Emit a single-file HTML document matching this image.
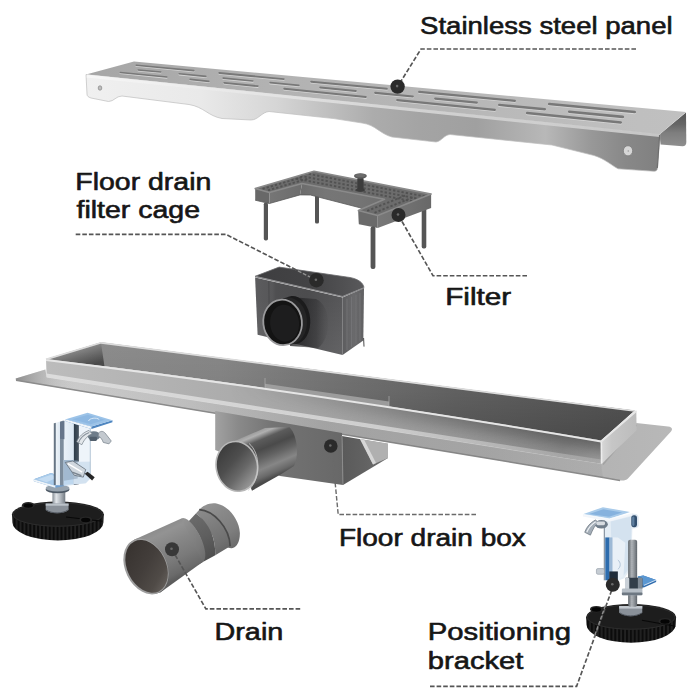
<!DOCTYPE html>
<html lang="en"><head><meta charset="utf-8"><title>Floor drain parts</title>
<style>
html,body{margin:0;padding:0;background:#fff;}
body{width:700px;height:700px;overflow:hidden;}
svg{display:block;}
text{font-family:"Liberation Sans",sans-serif;fill:#161616;stroke:#161616;stroke-width:0.6px;stroke-linejoin:round;}
</style></head><body>
<svg width="700" height="700" viewBox="0 0 700 700">
<defs>
<linearGradient id="pTop" gradientUnits="userSpaceOnUse" x1="86" y1="0" x2="686" y2="0"><stop offset="0" stop-color="#a6a6a6"/><stop offset="0.12" stop-color="#aaaaaa"/><stop offset="0.3" stop-color="#b2b2b2"/><stop offset="0.6" stop-color="#b6b6b6"/><stop offset="0.85" stop-color="#bebebe"/><stop offset="1" stop-color="#c0c0c0"/></linearGradient>
<linearGradient id="pBack" gradientUnits="userSpaceOnUse" x1="0" y1="113" x2="0" y2="146"><stop offset="0" stop-color="#565656"/><stop offset="0.35" stop-color="#666666"/><stop offset="0.6" stop-color="#7e7e7e"/><stop offset="1" stop-color="#8e8e8e"/></linearGradient>
<linearGradient id="pFront" gradientUnits="userSpaceOnUse" x1="86" y1="0" x2="660" y2="0"><stop offset="0" stop-color="#f0f0f0"/><stop offset="0.2" stop-color="#e9e9e9"/><stop offset="0.33" stop-color="#d6d6d6"/><stop offset="0.42" stop-color="#c0c0c0"/><stop offset="0.5" stop-color="#acacac"/><stop offset="0.58" stop-color="#a4a4a4"/><stop offset="0.68" stop-color="#a0a0a0"/><stop offset="0.8" stop-color="#b8b8b8"/><stop offset="0.88" stop-color="#989898"/><stop offset="0.94" stop-color="#888888"/><stop offset="1" stop-color="#808080"/></linearGradient>
<linearGradient id="pRim" gradientUnits="userSpaceOnUse" x1="86" y1="0" x2="660" y2="0"><stop offset="0" stop-color="#f8f8f8"/><stop offset="0.35" stop-color="#e4e4e4"/><stop offset="0.6" stop-color="#d6d6d6"/><stop offset="1" stop-color="#cecece"/></linearGradient>
<linearGradient id="fMid" gradientUnits="userSpaceOnUse" x1="300" y1="0" x2="386" y2="0"><stop offset="0" stop-color="#6c6c6c"/><stop offset="0.3" stop-color="#767676"/><stop offset="0.7" stop-color="#747474"/><stop offset="1" stop-color="#6e6e6e"/></linearGradient>
<linearGradient id="fL" gradientUnits="userSpaceOnUse" x1="269" y1="0" x2="303" y2="0"><stop offset="0" stop-color="#767676"/><stop offset="1" stop-color="#6c6c6c"/></linearGradient>
<linearGradient id="fR" gradientUnits="userSpaceOnUse" x1="377" y1="0" x2="431" y2="0"><stop offset="0" stop-color="#787878"/><stop offset="0.6" stop-color="#707070"/><stop offset="1" stop-color="#686868"/></linearGradient>
<clipPath id="fTopClip"><polygon points="255.2,188.6 314.0,171.3 431.1,194.1 377.7,215.6 358.4,210.6 384.5,199.2 302.0,183.5 269.4,192.5"/></clipPath>
<linearGradient id="cFront" gradientUnits="userSpaceOnUse" x1="255" y1="0" x2="342" y2="0"><stop offset="0" stop-color="#5c5c5e"/><stop offset="0.2" stop-color="#575759"/><stop offset="0.24" stop-color="#4f4f51"/><stop offset="0.6" stop-color="#4c4c4e"/><stop offset="1" stop-color="#58585a"/></linearGradient>
<linearGradient id="cSide" gradientUnits="userSpaceOnUse" x1="342" y1="0" x2="365" y2="0"><stop offset="0" stop-color="#5c5c5e"/><stop offset="0.5" stop-color="#6a6a6c"/><stop offset="1" stop-color="#606062"/></linearGradient>
<linearGradient id="cFrontV" gradientUnits="userSpaceOnUse" x1="0" y1="300" x2="0" y2="356"><stop offset="0" stop-color="rgba(255,255,255,0)"/><stop offset="1" stop-color="rgba(255,255,255,0.07)"/></linearGradient>
<linearGradient id="cShadow" gradientUnits="userSpaceOnUse" x1="296" y1="0" x2="330" y2="0"><stop offset="0" stop-color="rgba(30,30,32,0.75)"/><stop offset="0.6" stop-color="rgba(40,40,42,0.45)"/><stop offset="1" stop-color="rgba(60,60,62,0)"/></linearGradient>
<linearGradient id="cTop" gradientUnits="userSpaceOnUse" x1="255" y1="0" x2="365" y2="0"><stop offset="0" stop-color="#3e3e40"/><stop offset="0.5" stop-color="#434345"/><stop offset="0.8" stop-color="#505052"/><stop offset="1" stop-color="#5a5a5c"/></linearGradient>
<linearGradient id="chFl" gradientUnits="userSpaceOnUse" x1="15" y1="0" x2="672" y2="0"><stop offset="0" stop-color="#cfcfcf"/><stop offset="0.3" stop-color="#c6c6c6"/><stop offset="0.7" stop-color="#bababa"/><stop offset="0.9" stop-color="#b4b4b4"/><stop offset="1" stop-color="#b8b8b8"/></linearGradient>
<linearGradient id="chFlL" gradientUnits="userSpaceOnUse" x1="16" y1="0" x2="75" y2="0"><stop offset="0" stop-color="rgba(120,120,120,0.75)"/><stop offset="0.5" stop-color="rgba(150,150,150,0.35)"/><stop offset="1" stop-color="rgba(180,180,180,0)"/></linearGradient>
<linearGradient id="chFs" gradientUnits="userSpaceOnUse" x1="46" y1="0" x2="603" y2="0"><stop offset="0" stop-color="rgba(110,110,110,0)"/><stop offset="0.25" stop-color="rgba(110,110,110,0.10)"/><stop offset="0.5" stop-color="rgba(100,100,100,0.32)"/><stop offset="0.8" stop-color="rgba(100,100,100,0.25)"/><stop offset="1" stop-color="rgba(110,110,110,0.10)"/></linearGradient>
<linearGradient id="bxF" gradientUnits="userSpaceOnUse" x1="215" y1="0" x2="342" y2="0"><stop offset="0" stop-color="#a2a2a2"/><stop offset="0.18" stop-color="#8a8a8a"/><stop offset="0.45" stop-color="#747474"/><stop offset="1" stop-color="#686868"/></linearGradient>
<linearGradient id="bxS" gradientUnits="userSpaceOnUse" x1="342" y1="0" x2="388" y2="0"><stop offset="0" stop-color="#5a5a5a"/><stop offset="0.5" stop-color="#626262"/><stop offset="1" stop-color="#6e6e6e"/></linearGradient>
<linearGradient id="pB" gradientUnits="userSpaceOnUse" x1="262" y1="428.5" x2="281.5" y2="474.5"><stop offset="0" stop-color="#9a9a9a"/><stop offset="0.08" stop-color="#b0b0b0"/><stop offset="0.2" stop-color="#5c5c5c"/><stop offset="0.38" stop-color="#4a4a4a"/><stop offset="0.55" stop-color="#626262"/><stop offset="0.75" stop-color="#868686"/><stop offset="0.9" stop-color="#6a6a6a"/><stop offset="1" stop-color="#4a4a4a"/></linearGradient>
<linearGradient id="pI" gradientUnits="userSpaceOnUse" x1="223" y1="447" x2="255" y2="487"><stop offset="0" stop-color="#3c3c3c"/><stop offset="0.35" stop-color="#4e4e4e"/><stop offset="0.6" stop-color="#686868"/><stop offset="0.85" stop-color="#8e8e8e"/><stop offset="1" stop-color="#a4a4a4"/></linearGradient>
<linearGradient id="chIn" gradientUnits="userSpaceOnUse" x1="44" y1="0" x2="633" y2="0"><stop offset="0" stop-color="#7e7e7e"/><stop offset="0.1" stop-color="#8c8c8c"/><stop offset="0.3" stop-color="#888888"/><stop offset="0.5" stop-color="#767676"/><stop offset="0.7" stop-color="#666666"/><stop offset="1" stop-color="#585858"/></linearGradient>
<linearGradient id="chLw" gradientUnits="userSpaceOnUse" x1="82" y1="346" x2="88" y2="366"><stop offset="0" stop-color="#909090"/><stop offset="0.45" stop-color="#707070"/><stop offset="1" stop-color="#4c4c4c"/></linearGradient>
<linearGradient id="chSh" gradientUnits="objectBoundingBox" x1="0" y1="0" x2="0" y2="1"><stop offset="0" stop-color="rgba(0,0,0,0)"/><stop offset="0.5" stop-color="rgba(0,0,0,0.06)"/><stop offset="1" stop-color="rgba(0,0,0,0.20)"/></linearGradient>
<linearGradient id="chFr" gradientUnits="userSpaceOnUse" x1="44" y1="0" x2="602" y2="0"><stop offset="0" stop-color="#bcbcbc"/><stop offset="0.25" stop-color="#b0b0b0"/><stop offset="0.5" stop-color="#a4a4a4"/><stop offset="0.75" stop-color="#989898"/><stop offset="0.93" stop-color="#8a8a8a"/><stop offset="1" stop-color="#9a9a9a"/></linearGradient>
<linearGradient id="chFrD" gradientUnits="userSpaceOnUse" x1="500" y1="424" x2="496.2" y2="447.7"><stop offset="0" stop-color="rgba(50,50,50,0.55)"/><stop offset="0.35" stop-color="rgba(60,60,60,0.36)"/><stop offset="0.75" stop-color="rgba(90,90,90,0.10)"/><stop offset="1" stop-color="rgba(120,120,120,0)"/></linearGradient>
<linearGradient id="chFrMg" gradientUnits="userSpaceOnUse" x1="230" y1="0" x2="602" y2="0"><stop offset="0" stop-color="#000"/><stop offset="0.55" stop-color="#9a9a9a"/><stop offset="1" stop-color="#fff"/></linearGradient>
<mask id="chFrM" maskUnits="userSpaceOnUse" x="0" y="300" width="700" height="250"><rect x="0" y="300" width="700" height="250" fill="url(#chFrMg)"/></mask>
<linearGradient id="chBend" gradientUnits="userSpaceOnUse" x1="46" y1="0" x2="601" y2="0"><stop offset="0" stop-color="rgba(222,222,222,0.95)"/><stop offset="0.6" stop-color="rgba(214,214,214,0.85)"/><stop offset="1" stop-color="rgba(200,200,200,0.35)"/></linearGradient>
<linearGradient id="chRe" gradientUnits="userSpaceOnUse" x1="601" y1="0" x2="637" y2="0"><stop offset="0" stop-color="#d8d8d8"/><stop offset="0.3" stop-color="#c6c6c6"/><stop offset="1" stop-color="#bcbcbc"/></linearGradient>
<linearGradient id="dF" gradientUnits="userSpaceOnUse" x1="380" y1="90" x2="620" y2="440"><stop offset="0" stop-color="#929292"/><stop offset="0.3" stop-color="#888888"/><stop offset="0.7" stop-color="#7e7e7e"/><stop offset="1" stop-color="#6c6c6c"/></linearGradient>
<linearGradient id="dR" gradientUnits="userSpaceOnUse" x1="300" y1="150" x2="520" y2="520"><stop offset="0" stop-color="#8a8a8a"/><stop offset="0.35" stop-color="#7e7e7e"/><stop offset="0.75" stop-color="#707070"/><stop offset="1" stop-color="#626262"/></linearGradient>
<linearGradient id="dD" gradientUnits="userSpaceOnUse" x1="220" y1="220" x2="400" y2="560"><stop offset="0" stop-color="#6a6a6a"/><stop offset="0.5" stop-color="#5e5e5e"/><stop offset="1" stop-color="#4e4e4e"/></linearGradient>
<linearGradient id="dN" gradientUnits="userSpaceOnUse" x1="180" y1="240" x2="330" y2="590"><stop offset="0" stop-color="#929292"/><stop offset="0.4" stop-color="#868686"/><stop offset="0.8" stop-color="#707070"/><stop offset="1" stop-color="#5e5e5e"/></linearGradient>
<linearGradient id="dB" gradientUnits="userSpaceOnUse" x1="210.6" y1="168.5" x2="329.4" y2="411.5"><stop offset="0" stop-color="#8c8c8c"/><stop offset="0.12" stop-color="#939393"/><stop offset="0.35" stop-color="#878787"/><stop offset="0.65" stop-color="#7a7a7a"/><stop offset="0.9" stop-color="#6a6a6a"/><stop offset="1" stop-color="#5c5c5c"/></linearGradient>
<linearGradient id="dI" gradientUnits="userSpaceOnUse" x1="95" y1="255" x2="235" y2="465"><stop offset="0" stop-color="#393431"/><stop offset="0.45" stop-color="#433e3b"/><stop offset="0.8" stop-color="#504b47"/><stop offset="1" stop-color="#635e5a"/></linearGradient>
<pattern id="knurl" width="3.9" height="30" patternUnits="userSpaceOnUse"><rect width="3.9" height="30" fill="#0c0c0c"/><rect x="0.3" width="1.5" height="30" fill="#272727"/></pattern>
<linearGradient id="blBolt" gradientUnits="userSpaceOnUse" x1="190" y1="0" x2="285" y2="0"><stop offset="0" stop-color="#7d858d"/><stop offset="0.3" stop-color="#e2e6ea"/><stop offset="0.6" stop-color="#b4bac0"/><stop offset="1" stop-color="#6e767e"/></linearGradient>
<linearGradient id="blBody" gradientUnits="userSpaceOnUse" x1="205" y1="0" x2="457" y2="0"><stop offset="0" stop-color="#5f6f7f"/><stop offset="0.03" stop-color="#5f6f7f"/><stop offset="0.045" stop-color="#edf3f8"/><stop offset="0.15" stop-color="#dfe9f2"/><stop offset="0.165" stop-color="#7d8d9d"/><stop offset="0.25" stop-color="#7d8d9d"/><stop offset="0.27" stop-color="#e9f1f8"/><stop offset="0.53" stop-color="#dce8f3"/><stop offset="0.555" stop-color="#2f3d4a"/><stop offset="0.67" stop-color="#46525e"/><stop offset="0.69" stop-color="#f3f7fb"/><stop offset="1" stop-color="#e4edf6"/></linearGradient>
<linearGradient id="brBolt" gradientUnits="userSpaceOnUse" x1="372" y1="0" x2="435" y2="0"><stop offset="0" stop-color="#5c6268"/><stop offset="0.4" stop-color="#b4b8bc"/><stop offset="0.65" stop-color="#92979c"/><stop offset="1" stop-color="#5a6066"/></linearGradient>
</defs>
<rect width="700" height="700" fill="#ffffff"/>
<path d="M659.5,134.5 L686,112.5 L686.3,142 C686.3,145 685,146.3 682.5,146.3 L660.6,144.6 Z" fill="url(#pBack)"/>
<polygon points="86.0,74.5 134.0,61.5 686.0,112.0 660.0,134.0" fill="url(#pTop)" />
<line x1="136.2" y1="66.0" x2="193.8" y2="71.4" stroke="#d6d6d6" stroke-width="1.6" stroke-linecap="round"/>
<line x1="136.2" y1="65.2" x2="193.8" y2="70.6" stroke="#787878" stroke-width="1.6" stroke-linecap="round"/>
<line x1="219.2" y1="73.8" x2="283.8" y2="79.9" stroke="#d6d6d6" stroke-width="1.8" stroke-linecap="round"/>
<line x1="219.2" y1="73.0" x2="283.8" y2="79.1" stroke="#787878" stroke-width="1.8" stroke-linecap="round"/>
<line x1="311.2" y1="82.5" x2="386.8" y2="89.6" stroke="#d6d6d6" stroke-width="2.0" stroke-linecap="round"/>
<line x1="311.2" y1="81.7" x2="386.8" y2="88.8" stroke="#787878" stroke-width="2.0" stroke-linecap="round"/>
<line x1="419.2" y1="92.6" x2="514.8" y2="101.6" stroke="#d6d6d6" stroke-width="2.3" stroke-linecap="round"/>
<line x1="419.2" y1="91.8" x2="514.8" y2="100.8" stroke="#787878" stroke-width="2.3" stroke-linecap="round"/>
<line x1="549.2" y1="104.8" x2="634.8" y2="112.9" stroke="#d6d6d6" stroke-width="2.5" stroke-linecap="round"/>
<line x1="549.2" y1="104.0" x2="634.8" y2="112.1" stroke="#787878" stroke-width="2.5" stroke-linecap="round"/>
<line x1="138.2" y1="70.7" x2="160.8" y2="72.8" stroke="#d6d6d6" stroke-width="1.5" stroke-linecap="round"/>
<line x1="138.2" y1="69.9" x2="160.8" y2="72.0" stroke="#787878" stroke-width="1.5" stroke-linecap="round"/>
<line x1="179.2" y1="74.6" x2="205.8" y2="77.2" stroke="#d6d6d6" stroke-width="1.6" stroke-linecap="round"/>
<line x1="179.2" y1="73.8" x2="205.8" y2="76.4" stroke="#787878" stroke-width="1.6" stroke-linecap="round"/>
<line x1="223.2" y1="78.9" x2="252.8" y2="81.8" stroke="#d6d6d6" stroke-width="1.7" stroke-linecap="round"/>
<line x1="223.2" y1="78.1" x2="252.8" y2="81.0" stroke="#787878" stroke-width="1.7" stroke-linecap="round"/>
<line x1="270.2" y1="83.5" x2="298.8" y2="86.2" stroke="#d6d6d6" stroke-width="1.8" stroke-linecap="round"/>
<line x1="270.2" y1="82.7" x2="298.8" y2="85.4" stroke="#787878" stroke-width="1.8" stroke-linecap="round"/>
<line x1="320.2" y1="88.3" x2="355.8" y2="91.8" stroke="#d6d6d6" stroke-width="2.0" stroke-linecap="round"/>
<line x1="320.2" y1="87.5" x2="355.8" y2="91.0" stroke="#787878" stroke-width="2.0" stroke-linecap="round"/>
<line x1="375.2" y1="93.7" x2="412.8" y2="97.3" stroke="#d6d6d6" stroke-width="2.1" stroke-linecap="round"/>
<line x1="375.2" y1="92.9" x2="412.8" y2="96.5" stroke="#787878" stroke-width="2.1" stroke-linecap="round"/>
<line x1="435.2" y1="99.5" x2="476.8" y2="103.5" stroke="#d6d6d6" stroke-width="2.2" stroke-linecap="round"/>
<line x1="435.2" y1="98.7" x2="476.8" y2="102.7" stroke="#787878" stroke-width="2.2" stroke-linecap="round"/>
<line x1="499.2" y1="105.7" x2="544.8" y2="110.1" stroke="#d6d6d6" stroke-width="2.4" stroke-linecap="round"/>
<line x1="499.2" y1="104.9" x2="544.8" y2="109.3" stroke="#787878" stroke-width="2.4" stroke-linecap="round"/>
<line x1="569.2" y1="112.5" x2="622.8" y2="117.7" stroke="#d6d6d6" stroke-width="2.6" stroke-linecap="round"/>
<line x1="569.2" y1="111.7" x2="622.8" y2="116.9" stroke="#787878" stroke-width="2.6" stroke-linecap="round"/>
<line x1="120.2" y1="73.2" x2="166.8" y2="77.9" stroke="#d6d6d6" stroke-width="1.5" stroke-linecap="round"/>
<line x1="120.2" y1="72.4" x2="166.8" y2="77.1" stroke="#787878" stroke-width="1.5" stroke-linecap="round"/>
<line x1="190.2" y1="80.2" x2="208.8" y2="82.1" stroke="#d6d6d6" stroke-width="1.7" stroke-linecap="round"/>
<line x1="190.2" y1="79.4" x2="208.8" y2="81.3" stroke="#787878" stroke-width="1.7" stroke-linecap="round"/>
<line x1="224.2" y1="83.6" x2="257.8" y2="87.0" stroke="#d6d6d6" stroke-width="1.8" stroke-linecap="round"/>
<line x1="224.2" y1="82.8" x2="257.8" y2="86.2" stroke="#787878" stroke-width="1.8" stroke-linecap="round"/>
<line x1="284.2" y1="89.6" x2="365.8" y2="97.8" stroke="#d6d6d6" stroke-width="1.9" stroke-linecap="round"/>
<line x1="284.2" y1="88.8" x2="365.8" y2="97.0" stroke="#787878" stroke-width="1.9" stroke-linecap="round"/>
<line x1="397.2" y1="100.9" x2="494.8" y2="110.7" stroke="#d6d6d6" stroke-width="2.2" stroke-linecap="round"/>
<line x1="397.2" y1="100.1" x2="494.8" y2="109.9" stroke="#787878" stroke-width="2.2" stroke-linecap="round"/>
<line x1="527.2" y1="113.9" x2="620.8" y2="123.3" stroke="#d6d6d6" stroke-width="2.5" stroke-linecap="round"/>
<line x1="527.2" y1="113.1" x2="620.8" y2="122.5" stroke="#787878" stroke-width="2.5" stroke-linecap="round"/>
<path d="M86,74.5 L660,134 L657.5,168 C657.3,170.5 656,171.4 654,171.3 L618,168.8 C611,165 605,159 594,155.5 L552,145 L450,134.5 C444,135 442,141 436,142 L392,137 C380,134 376,125 362,123 L334,118.6 L269,111.5 C262,112 258,120 251,120 L222,118.5 C208,116 204,107 189,104.5 L122,96 C116,96 114,101.5 108.5,101.5 L91,98 C88,97 87,96 87,94 Z" fill="url(#pFront)" stroke="#bdbdbd" stroke-width="0.7"/>
<line x1="86.8" y1="76" x2="659.8" y2="135.5" stroke="url(#pRim)" stroke-width="3" opacity="0.9"/>
<line x1="659.6" y1="135" x2="657.3" y2="168" stroke="#6e6e6e" stroke-width="1.2"/>
<ellipse cx="100" cy="88" rx="1.8" ry="2.2" fill="#bdbdbd" stroke="#8f8f8f" stroke-width="0.8"/>
<ellipse cx="628" cy="150.8" rx="4.7" ry="5.1" fill="#d6d6d6" stroke="#7e7e7e" stroke-width="0.9"/><circle cx="628.3" cy="151" r="0.8" fill="#9a9a9a"/>
<rect x="315" y="194" width="4" height="29.5" rx="1.5" fill="#555555"/>
<rect x="421.7" y="205" width="4.6" height="43.5" rx="1.8" fill="#555555"/>
<path d="M302,183.5 L384.5,199.2 L358.4,210.6 L358.9,224.29999999999998 L361,208 L310.4,195 L300,194.9 Z" fill="url(#fMid)"/>
<polygon points="255.2,188.6 269.4,192.5 269.4,203.5 255.2,200.2" fill="#686868" />
<polygon points="269.4,192.5 302.0,183.5 300.0,194.9 269.4,203.5" fill="url(#fL)" />
<polygon points="358.4,210.6 377.7,215.6 377.7,227.9 358.9,224.3" fill="#6a6a6a" />
<polygon points="377.7,215.6 431.1,194.1 431.1,208.1 377.7,227.9" fill="url(#fR)" />
<polygon points="255.2,188.6 314.0,171.3 431.1,194.1 377.7,215.6 358.4,210.6 384.5,199.2 302.0,183.5 269.4,192.5" fill="#6c6c6c" />
<g clip-path="url(#fTopClip)" fill="none" stroke="#484848" stroke-width="1.9" stroke-dasharray="2.3 2" opacity="0.7">
<line x1="296" y1="171.4" x2="428" y2="197.1"/>
<line x1="296" y1="175.0" x2="428" y2="200.7"/>
<line x1="296" y1="178.6" x2="428" y2="204.3"/>
<line x1="262.5" y1="188.9" x2="302.5" y2="177.1"/>
<line x1="267.9" y1="190.4" x2="307.9" y2="178.6"/>
<line x1="367.2" y1="210.9" x2="407.2" y2="194.8"/>
<line x1="374.5" y1="212.8" x2="414.5" y2="196.7"/>
</g>
<polygon points="255.2,188.6 314.0,171.3 431.1,194.1 377.7,215.6 358.4,210.6 384.5,199.2 302.0,183.5 269.4,192.5" fill="none" stroke="#8a8a8a" stroke-width="1.6" stroke-linejoin="round"/>
<path d="M255.2,200.2 L269.4,203.5 L300,194.9 L310.4,195 L361,208" stroke="#5a5a5a" stroke-width="0.8" fill="none"/>
<rect x="263.8" y="202.5" width="4.2" height="38" rx="1.8" fill="#555555"/>
<rect x="370.6" y="226.5" width="4.8" height="42.5" rx="2" fill="#555555"/>
<rect x="357.3" y="177" width="6.3" height="13.5" rx="2" fill="#3c3c3c"/>
<ellipse cx="360.4" cy="190" rx="4.5" ry="1.8" fill="#3c3c3c"/>
<ellipse cx="360.4" cy="176" rx="6.4" ry="2.7" fill="#5c5c5c"/>
<ellipse cx="360.4" cy="175.4" rx="5" ry="1.7" fill="#6c6c6c"/>
<path d="M255.1,277.5 L342.6,297.6 L342.6,355 L257.6,334.8 Z" fill="url(#cFront)"/>
<path d="M255.1,277.5 L342.6,297.6 L342.6,355 L257.6,334.8 Z" fill="url(#cFrontV)"/>
<line x1="268.8" y1="281" x2="269.5" y2="337.5" stroke="#454547" stroke-width="0.8"/>
<path d="M342.6,297.6 L364,288.1 L363.3,340.4 L342.6,355 Z" fill="url(#cSide)"/>
<line x1="347" y1="298.7" x2="347" y2="349.9" stroke="#757577" stroke-width="0.9"/>
<line x1="351.5" y1="296.7" x2="351.5" y2="346.8" stroke="#757577" stroke-width="0.9"/>
<line x1="356" y1="294.7" x2="356" y2="343.6" stroke="#757577" stroke-width="0.9"/>
<line x1="360" y1="292.9" x2="360" y2="340.8" stroke="#757577" stroke-width="0.9"/>
<line x1="363.6" y1="338" x2="364" y2="346.6" stroke="#4a4a4a" stroke-width="1"/>
<path d="M290,297 L316,299 C332,306 332,338 318,348 L290,346 Z" fill="url(#cShadow)"/>
<path d="M255.1,276.3 L279.1,267.1 L350,277.5 C358,279 363,282.5 364,287.5 L342.6,296.5 Z" fill="url(#cTop)"/>
<path d="M255.1,276.5 L342.6,296.7 L364,287.8" fill="none" stroke="#8a8a8c" stroke-width="1.3" stroke-linejoin="round"/>
<path d="M255.1,276.3 L279.1,267.1 L350,277.5 C358,279 363,282.5 364,287.5" fill="none" stroke="#6a6a6c" stroke-width="0.8"/>
<ellipse cx="293.7" cy="320" rx="16.5" ry="24" fill="#1b1b1c" transform="rotate(-5 293.7 320)"/>
<ellipse cx="289" cy="321" rx="18" ry="23.6" fill="#252526" transform="rotate(-5 289 321)"/>
<ellipse cx="282.6" cy="322.4" rx="19.3" ry="22.7" fill="#131313" stroke="#9a9a9c" stroke-width="1.8" transform="rotate(-6 282.6 322.4)"/>
<ellipse cx="284.6" cy="323.2" rx="14.5" ry="18.5" fill="#1d1d1e" transform="rotate(-6 284.6 323.2)"/>
<path d="M15.7,378.6 L45.4,369.4 L46.6,376.9 L601.1,463.7 L636.3,423 L668,426.5 C672,427 673,429 671,431.5 L628,478.5 C626,480.5 623,481 619,480.3 L603,477.5 L16,380.5 Z" fill="url(#chFl)"/>
<path d="M15.7,378.6 L45.4,369.4 L46.6,376.9 L75,381.4 L75,390.2 L16,380.3 Z" fill="url(#chFlL)"/>
<path d="M16,380.3 L603,477.5 L620,480.4" stroke="#8c8c8c" stroke-width="1.5" fill="none"/>
<path d="M603,464.5 L636.6,425" stroke="#a2a2a2" stroke-width="1.4" fill="none"/>
<path d="M46.6,376.9 L601.1,463.7 L603,477.5 L16,380.3 Z" fill="url(#chFs)"/>
<path d="M215.2,411 L342,433 L343,485 L280,476 L215.2,450 Z" fill="url(#bxF)"/>
<path d="M342,436 L388,444 L388,458 L343,485 Z" fill="url(#bxS)"/>
<path d="M360,439 L388,443.5 L388,458 L373,464.5 Z" fill="#b0b0b0"/>
<path d="M360,439 L373,464.5 L376,463 L364,439.6 Z" fill="#d6d6d6"/>
<line x1="342" y1="436" x2="343" y2="485" stroke="#8c8c8c" stroke-width="0.9"/>
<path d="M233.6,441.4 L265,427.9 L289.3,427 C297,434 299.5,455 294,466 L281,474.2 L252,490.7 Z" fill="url(#pB)"/>
<ellipse cx="236.8" cy="466.4" rx="20.6" ry="25" fill="url(#pI)" stroke="#b8b8b8" stroke-width="1.6" transform="rotate(-10 236.8 466.4)"/>
<path d="M249,443.5 C261,453 261,480 248,490.5" stroke="#cfcfcf" stroke-width="1" fill="none" opacity="0.8"/>
<path d="M46,359.1 L101.1,342.3 L634.6,410.6 L601.1,440.6 Q291,388.5 46,359.1 Z" fill="url(#chIn)"/>
<path d="M47,360 L101.1,343.5 L104.5,366.5 L75,363 Z" fill="url(#chLw)"/>
<path d="M46,359.1 L101.1,342.3 L634.6,410.6 L601.1,440.6 Q291,388.5 46,359.1 Z" fill="url(#chSh)"/>
<path d="M265,383.8 L389,401.6 L389,407 L265,389 Z" fill="#a4a4a4" opacity="0.85"/>
<path d="M265,378 L265,389 M389,396 L389,407" stroke="#b4b4b4" stroke-width="0.8" opacity="0.8"/>
<path d="M46,359.1 Q291,388.5 601.1,440.6 L601.1,463.7 L46.6,376.9 Z" fill="url(#chFr)"/>
<path d="M46,359.1 Q291,388.5 601.1,440.6 L601.1,463.7 L46.6,376.9 Z" fill="url(#chFrD)" mask="url(#chFrM)"/>
<path d="M46.4,373.6 L601.1,459.6 L601.1,464.2 L46.6,377.4 Z" fill="url(#chBend)"/>
<path d="M601.1,440.6 L636.3,410.6 L636.6,430.3 L601.6,463.7 Z" fill="url(#chRe)"/>
<line x1="601.3" y1="441" x2="601.6" y2="463.5" stroke="#ededed" stroke-width="1.6"/>
<path d="M46,359.9 Q291,389.3 601.1,441.4 L636,411.2" stroke="#e6e6e6" stroke-width="2" fill="none" stroke-linejoin="round"/>
<path d="M46,359.4 L101.1,342.8 L634.6,411" stroke="#dcdcdc" stroke-width="1.7" fill="none" stroke-linejoin="round"/>
<g transform="translate(115,495) scale(0.2)">
<g transform="translate(250,0) scale(0.5714286)">
<path d="M300,128 C330,90 400,62 450,74 C560,95 650,220 655,330 C658,410 625,462 585,466 C500,470 300,250 300,128 Z" fill="url(#dF)"/>
<path d="M270,162 L300,128 C420,135 565,280 570,448 L440,528 C445,400 400,250 270,162 Z" fill="url(#dR)"/>
<path d="M300,128 C420,135 565,280 570,448" stroke="#4a4a4a" stroke-width="15" fill="none"/>
<path d="M205,232 L270,162 C400,250 445,400 440,528 L335,585 C360,470 310,320 205,232 Z" fill="url(#dD)"/>
<path d="M150,240 L205,232 C310,320 360,470 335,585 L290,610 C320,480 270,330 150,240 Z" fill="url(#dN)"/>
</g>
<ellipse cx="385" cy="226" rx="45" ry="121" transform="rotate(-26 385 226)" fill="url(#dB)" />
<polygon points="95.3,223.7 331.8,117.1 438.2,334.9 224.7,488.3" fill="url(#dB)"/>
<ellipse cx="160" cy="356" rx="100" ry="147" transform="rotate(-26 160 356)" fill="url(#dB)" />
<ellipse cx="155" cy="358" rx="104" ry="146" transform="rotate(-26 155 358)" fill="#9e9e9e" />
<ellipse cx="158" cy="357" rx="97" ry="139" transform="rotate(-26 158 357)" fill="url(#dI)" />
</g>
<path d="M12.0,514.2 L12.4,522.4000000000001 A45.5,18 0 0 0 103.39999999999999,522.4000000000001 L103.8,514.2 Z" fill="url(#knurl)"/>
<ellipse cx="57.9" cy="514.2" rx="45.9" ry="12.6" fill="#1d1d1d"/>
<ellipse cx="57.9" cy="514.5" rx="44.699999999999996" ry="11.7" fill="none" stroke="#2c2c2c" stroke-width="1"/>
<path d="M66,517 L102.5,521.2" stroke="#080808" stroke-width="1.1"/>
<ellipse cx="28.3" cy="505.3" rx="6.4" ry="3.3" fill="#262626"/>
<ellipse cx="28.3" cy="505.6" rx="4.6" ry="2.2" fill="#050505"/>
<ellipse cx="85.7" cy="519.7" rx="6.4" ry="3.3" fill="#262626"/>
<ellipse cx="85.7" cy="520.0" rx="4.6" ry="2.2" fill="#050505"/>
<g transform="translate(25,405) scale(0.142857)">
<rect x="192" y="590" width="90" height="110" fill="url(#blBolt)"/>
<path d="M145,690 L305,690 L305,735 C270,765 180,765 145,735 Z" fill="#8a9199"/>
<path d="M145,690 L305,690 L305,705 L145,705 Z" fill="#bcc3c9"/>
<path d="M150,735 C185,762 265,762 300,735" stroke="#4a5058" stroke-width="6" fill="none"/>
<ellipse cx="228" cy="592" rx="84" ry="26" fill="#4e5a66"/>
<ellipse cx="228" cy="582" rx="84" ry="24" fill="#97a3ae"/>
<polygon points="62,520 183,476 300,520 300,562 212,580 62,534" fill="#6f9fd0"/>
<polygon points="62,520 183,476 300,520 212,566" fill="#a9cbea"/>
<polygon points="62,520 212,566 212,580 62,534" fill="#eef4f9"/>
<polygon points="90,520 183,488 230,506 150,540" fill="#c4dcf2"/>
<path d="M205,128 L270,108 L457,152 L457,515 L425,547 L300,565 L205,560 Z" fill="url(#blBody)"/>
<path d="M270,385 L340,385 L340,555 L270,560 Z" fill="#b5d2ec" opacity="0.8"/>
<path d="M340,395 L457,395 L457,515 L425,547 L340,557 Z" fill="#d3e2f0"/>
<path d="M380,152 L457,152 L457,395 L380,395 Z" fill="#eef4fa"/>
<path d="M457,152 L457,515" stroke="#9fb4c8" stroke-width="5"/>
<path d="M273,385 L369,385 L369,515 L273,530 Z" fill="#7f95ab" opacity="0.45"/>
<path d="M245,120 L276,110 L276,240 L245,236 Z" fill="#65758a"/>
<path d="M205,128 L205,560" stroke="#556575" stroke-width="6"/>
<polygon points="285,100 465,150 612,106 612,120 465,168 285,114" fill="#4f86c0"/>
<polygon points="285,100 465,150 465,168 285,114" fill="#f1f5f9"/>
<polygon points="285,100 438,55 612,106 465,150" fill="#9cc3e8"/>
<polygon points="330,100 440,68 560,104 460,134" fill="#8db8e2"/>
<path d="M445,112 C450,92 500,84 520,102" stroke="#e8f1f9" stroke-width="6" fill="none"/>
<ellipse cx="482" cy="215" rx="45" ry="32" fill="#6f7d8a"/>
<rect x="452" y="222" width="52" height="30" rx="8" fill="#525f6c"/>
<path d="M362,258 C372,225 410,190 448,178 L470,202 C440,212 415,240 398,278 Z" fill="#e3e7eb" stroke="#76808a" stroke-width="5"/>
<path d="M515,196 C530,180 548,182 560,196 L604,252 L588,272 L548,262 C540,240 528,222 512,218 Z" fill="#c3c9cf" stroke="#76808a" stroke-width="5"/>
<path d="M375,262 C385,235 415,205 450,192" stroke="#8a949e" stroke-width="8" fill="none"/>
<path d="M282,402 L335,392 L425,452 L408,505 L345,492 Z" fill="#d0d7de" stroke="#56616c" stroke-width="5"/>
<path d="M300,410 L400,470" stroke="#ffffff" stroke-width="10"/>
<path d="M330,470 L395,495" stroke="#7a8590" stroke-width="10"/>
<polygon points="418,482 438,468 488,506 470,528" fill="#262626"/>
</g>
<path d="M586.1,616.9 L586.5,624.6999999999999 A44.6,18 0 0 0 675.7,624.6999999999999 L676.1,616.9 Z" fill="url(#knurl)"/>
<ellipse cx="631.1" cy="616.9" rx="45" ry="12.9" fill="#1d1d1d"/>
<ellipse cx="631.1" cy="617.1999999999999" rx="43.8" ry="12.0" fill="none" stroke="#2c2c2c" stroke-width="1"/>
<path d="M642,620.3 L675.5,626.2" stroke="#080808" stroke-width="1.1"/>
<ellipse cx="596.4" cy="609.2" rx="6.4" ry="3.3" fill="#262626"/>
<ellipse cx="596.4" cy="609.5" rx="4.6" ry="2.2" fill="#050505"/>
<ellipse cx="665" cy="621.2" rx="6.4" ry="3.3" fill="#262626"/>
<ellipse cx="665" cy="621.5" rx="4.6" ry="2.2" fill="#050505"/>
<g transform="translate(575,500) scale(0.142857)">
<path d="M309,742 L471,742 L471,790 C435,822 345,822 309,790 Z" fill="#8a9199"/>
<path d="M309,742 L471,742 L471,760 L309,760 Z" fill="#c3c9cf"/>
<path d="M314,790 C350,818 430,818 466,790" stroke="#4a5058" stroke-width="6" fill="none"/>
<polygon points="440,535 478,528 568,560 568,574 482,612 440,606" fill="#2f6cae"/>
<polygon points="440,535 478,528 568,560 482,598 440,590" fill="#5a97d2"/>
<path d="M482,598 L568,560" stroke="#e6eff7" stroke-width="6"/>
<path d="M205,135 L245,128 L400,92 L402,200 L392,480 L345,548 L300,565 L205,562 Z" fill="#e4edf5"/>
<path d="M250,150 L395,115 L395,200 L385,470 L340,530 L262,520 Z" fill="#d4e2ef"/>
<path d="M262,260 L262,520 L300,560 L340,530 L352,300 L300,262 Z" fill="#e9f0f7"/>
<rect x="212" y="262" width="30" height="300" fill="#2d6cad"/>
<rect x="242" y="262" width="20" height="250" fill="#9db9d6"/>
<path d="M205,135 L205,562" stroke="#5c6c7c" stroke-width="6"/>
<path d="M300,420 C322,435 322,470 300,485" stroke="#a9bdd2" stroke-width="6" fill="none"/>
<rect x="240" y="500" width="60" height="62" fill="#1f2c3a"/>
<rect x="372" y="278" width="63" height="470" rx="14" fill="url(#brBolt)"/>
<path d="M403,290 L403,740" stroke="#8a9096" stroke-width="60" stroke-dasharray="3 5" opacity="0.35"/>
<path d="M385,92 L428,98 C442,104 446,114 446,126 L446,182 C440,196 420,202 392,198 Z" fill="#dfe8f1"/>
<rect x="394" y="106" width="40" height="84" rx="18" fill="#33506f"/>
<rect x="400" y="116" width="16" height="66" rx="8" fill="#5f7f9f"/>
<polygon points="55,100 240,132 400,92 400,108 240,150 55,116" fill="#f3f6fa"/>
<polygon points="55,100 195,50 385,84 240,132" fill="#a9cbea"/>
<polygon points="100,98 198,64 330,88 238,118" fill="#86b2de"/>
<path d="M55,100 L240,132 L400,92" stroke="#ffffff" stroke-width="5" fill="none"/>
<ellipse cx="185" cy="170" rx="45" ry="30" fill="#6f7d8a"/>
<path d="M68,226 C80,190 105,160 142,140 L165,156 C140,176 125,205 108,246 Z" fill="#a3adb7" stroke="#6a747e" stroke-width="5"/>
<path d="M82,226 C95,195 115,170 145,152" stroke="#eef1f4" stroke-width="8" fill="none"/>
<rect x="150" y="150" width="60" height="26" rx="10" fill="#d7dce1"/>
<rect x="150" y="480" width="56" height="40" rx="10" fill="#c5ccd3" stroke="#8a949e" stroke-width="4"/>
<rect x="350" y="545" width="122" height="78" rx="8" fill="#323e4a"/>
<rect x="350" y="545" width="30" height="78" rx="6" fill="#c9d0d7"/>
<rect x="440" y="545" width="32" height="78" rx="6" fill="#7e8994"/>
<rect x="328" y="620" width="144" height="46" rx="8" fill="#b6bec6"/>
<rect x="328" y="648" width="144" height="18" rx="6" fill="#6e7882"/>
</g>
<path d="M636,49 L421,49 L400.5,82" stroke="#555555" stroke-width="1.65" stroke-dasharray="4.6 2" fill="none"/>
<circle cx="397.6" cy="86.6" r="7.2" fill="#2a2a2a"/>
<circle cx="397.1" cy="86.1" r="1.3" fill="#6a6a6a"/>
<path d="M75.7,234.3 L225.7,234.3 L298,270.8" stroke="#555555" stroke-width="1.65" stroke-dasharray="4.6 2" fill="none"/>
<path d="M298,270.8 L312,278" stroke="#909090" stroke-width="1.4" stroke-dasharray="3.8 1.7" fill="none"/>
<circle cx="316.4" cy="280.2" r="7.3" fill="#2a2a2a"/>
<circle cx="315.9" cy="279.7" r="1.3" fill="#6a6a6a"/>
<path d="M527,275.7 L433,275.7 L400,218" stroke="#555555" stroke-width="1.65" stroke-dasharray="4.6 2" fill="none"/>
<circle cx="398.5" cy="215" r="7" fill="#2a2a2a"/>
<circle cx="398.0" cy="214.5" r="1.3" fill="#6a6a6a"/>
<path d="M476,514.5 L338.2,514.5 L332.2,452" stroke="#6a6a6a" stroke-width="1.4" stroke-dasharray="4.6 2" fill="none"/>
<circle cx="330.8" cy="446" r="6.8" fill="#2a2a2a"/>
<circle cx="330.3" cy="445.5" r="1.3" fill="#6a6a6a"/>
<path d="M300.2,608.9 L205.9,608.9 L174,553" stroke="#555555" stroke-width="1.65" stroke-dasharray="4.6 2" fill="none"/>
<circle cx="172" cy="549.2" r="7" fill="#383838"/>
<circle cx="171.5" cy="548.7" r="1.3" fill="#6a6a6a"/>
<path d="M430,686.3 L576.6,686.3 L611.8,590" stroke="#555555" stroke-width="1.65" stroke-dasharray="4.6 2" fill="none"/>
<circle cx="612.8" cy="584.7" r="7" fill="#2a2a2a"/>
<circle cx="612.3" cy="584.2" r="1.3" fill="#6a6a6a"/>
<path d="M605.4,605.5 L594,637.5" stroke="#8c8c8c" stroke-width="1.4" stroke-dasharray="3.8 1.7" fill="none"/>
<text x="420.1" y="33.5" font-size="23.5" textLength="252.5" lengthAdjust="spacingAndGlyphs">Stainless steel panel</text>
<text x="75.3" y="190.1" font-size="23.5" textLength="136" lengthAdjust="spacingAndGlyphs">Floor drain</text>
<text x="76.5" y="217.8" font-size="23.5" textLength="123.5" lengthAdjust="spacingAndGlyphs">filter cage</text>
<text x="445.2" y="304.7" font-size="23.5" textLength="66" lengthAdjust="spacingAndGlyphs">Filter</text>
<text x="338.9" y="546.2" font-size="23.5" textLength="187" lengthAdjust="spacingAndGlyphs">Floor drain box</text>
<text x="214.5" y="640.4" font-size="23.5" textLength="68.8" lengthAdjust="spacingAndGlyphs">Drain</text>
<text x="427.8" y="640.4" font-size="23.5" textLength="143.2" lengthAdjust="spacingAndGlyphs">Positioning</text>
<text x="427.8" y="669" font-size="23.5" textLength="95.5" lengthAdjust="spacingAndGlyphs">bracket</text>
</svg>
</body></html>
